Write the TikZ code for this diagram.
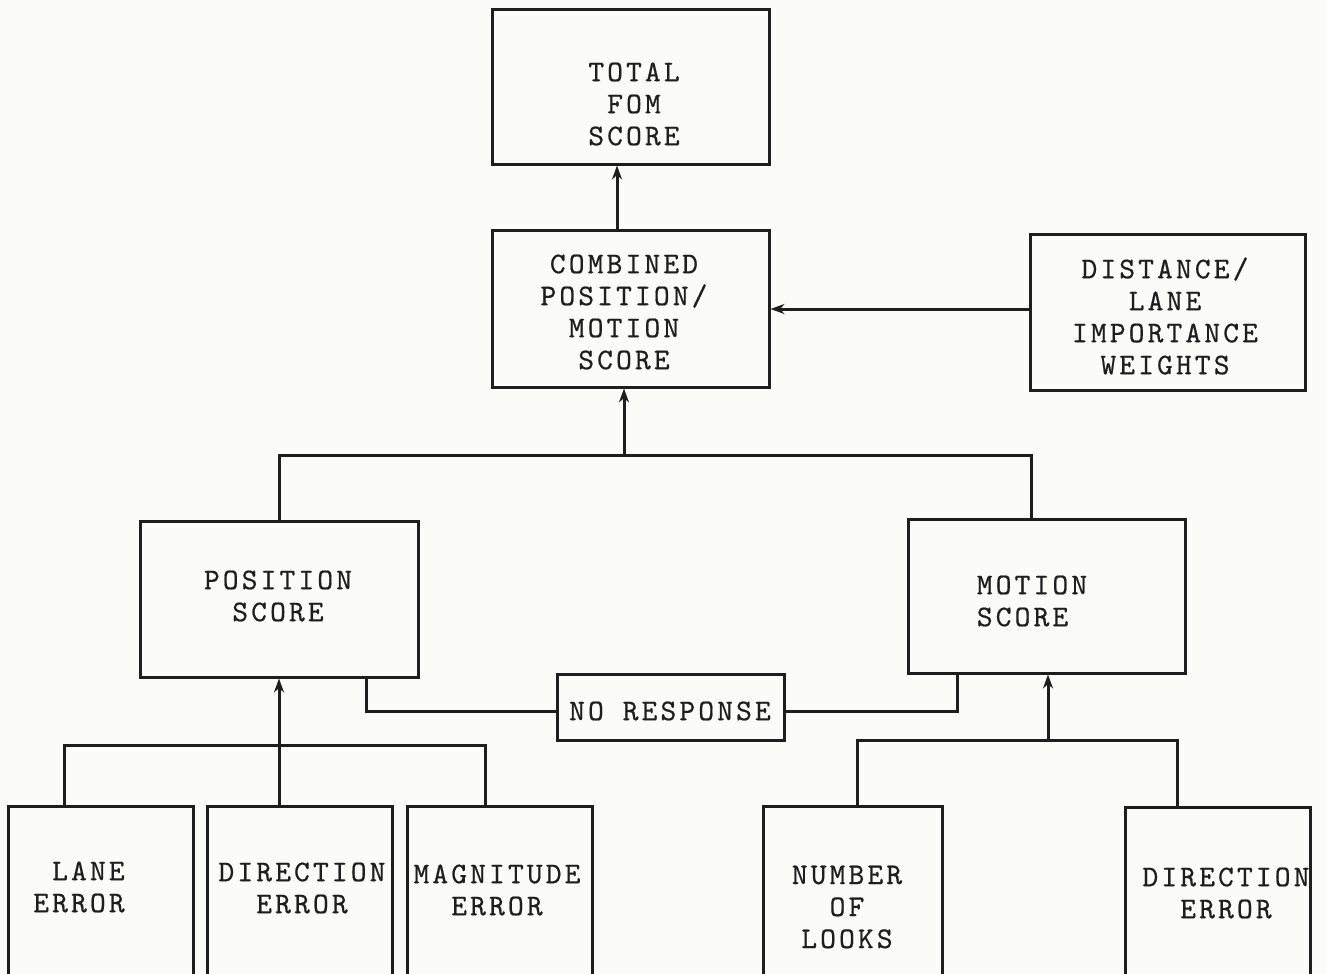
\documentclass[tikz,border=0pt]{standalone}
\usepackage{fontspec}
\newfontfamily\tw{lmmono10-regular.otf}[LetterSpace=10.5,FakeBold=0.6]
\usetikzlibrary{arrows.meta}
\definecolor{ink}{HTML}{1E1E1E}
\definecolor{paper}{HTML}{FBFBF7}
\begin{document}
\begin{tikzpicture}[x=1pt,y=-1pt,
  box/.style={draw=ink, line width=3pt, rectangle, inner sep=0pt},
  txt/.style={text=ink, font=\tw\fontsize{30}{32}\selectfont, align=center, inner sep=0pt},
  conn/.style={draw=ink, line width=3pt},
  arr/.style={conn, -{Stealth[length=14pt,width=10pt]}}]
\fill[paper] (0,0) rectangle (1326,974);
\useasboundingbox (0,0) rectangle (1326,974);
\clip (0,0) rectangle (1326,974);
% boxes
\node[box, minimum width=277pt, minimum height=154pt] (total) at (630.5,87) {};
\node[box, minimum width=277pt, minimum height=157pt] (comb) at (630.5,308.5) {};
\node[box, minimum width=275pt, minimum height=156pt] (dist) at (1167.5,312) {};
\node[box, minimum width=278pt, minimum height=156pt] (pos) at (279,599) {};
\node[box, minimum width=277pt, minimum height=154pt] (mot) at (1046.5,596) {};
\node[box, minimum width=227pt, minimum height=66pt] (nr) at (670.5,707) {};
\node[box, minimum width=185pt, minimum height=194pt] (lane) at (100.5,903) {};
\node[box, minimum width=185pt, minimum height=194pt] (dir1) at (299.5,903) {};
\node[box, minimum width=185pt, minimum height=194pt] (mag) at (499.5,903) {};
\node[box, minimum width=179pt, minimum height=194pt] (num) at (852.5,903) {};
\node[box, minimum width=185pt, minimum height=193pt] (dir2) at (1217.5,903.5) {};
% texts
\node[txt] (t-total) at (634,104) {TOTAL\\FOM\\SCORE};
\node[txt] (t-comb) at (624,312) {COMBINED\\POSITION/\\MOTION\\SCORE};
\node[txt] (t-dist) at (1165,316) {DISTANCE/\\LANE\\IMPORTANCE\\WEIGHTS};
\node[txt] (t-pos) at (278,596) {POSITION\\SCORE};
\node[txt, align=left] (t-mot) at (1032,601) {MOTION\\SCORE};
\node[txt] (t-nr) at (670,711) {NO RESPONSE};
\node[txt, align=right] (t-lane) at (79,887) {LANE\\ERROR};
\node[txt] (t-dir1) at (302,888) {DIRECTION\\ERROR};
\node[txt] (t-mag) at (497,890) {MAGNITUDE\\ERROR};
\node[txt] (t-num) at (847,907) {NUMBER\\OF\\LOOKS};
\node[txt] (t-dir2) at (1226,893) {DIRECTION\\ERROR};
% junctions
\coordinate (j1) at (624,455);
\coordinate (j2) at (279,745);
\coordinate (j3) at (1048,740);
% connectors
\draw[arr] ([xshift=-13.5pt]comb.north) -- ([xshift=-13.5pt]total.south);
\draw[arr] ([yshift=3pt]dist.west) -- ([yshift=3pt]dist.west -| comb.east);
\draw[arr] (j1) -- (j1 |- comb.south);
\draw[conn] (pos.north) -- (pos.north |- j1) -- ([xshift=-15.5pt]mot.north |- j1) -- ([xshift=-15.5pt]mot.north);
\draw[conn] ([xshift=87pt]pos.south) |- ([yshift=-4pt]nr.west);
\draw[conn] ([yshift=-4pt]nr.east) -| ([xshift=-89.5pt]mot.south);
\draw[arr] (dir1.north -| pos.south) -- (pos.south);
\draw[conn] ([xshift=-36.5pt]lane.north) |- (j2) -| ([xshift=-14.5pt]mag.north);
\draw[arr] (j3) -- (j3 |- mot.south);
\draw[conn] ([xshift=4.5pt]num.north) |- (j3) -| ([xshift=-40.5pt]dir2.north);
\end{tikzpicture}
\end{document}
